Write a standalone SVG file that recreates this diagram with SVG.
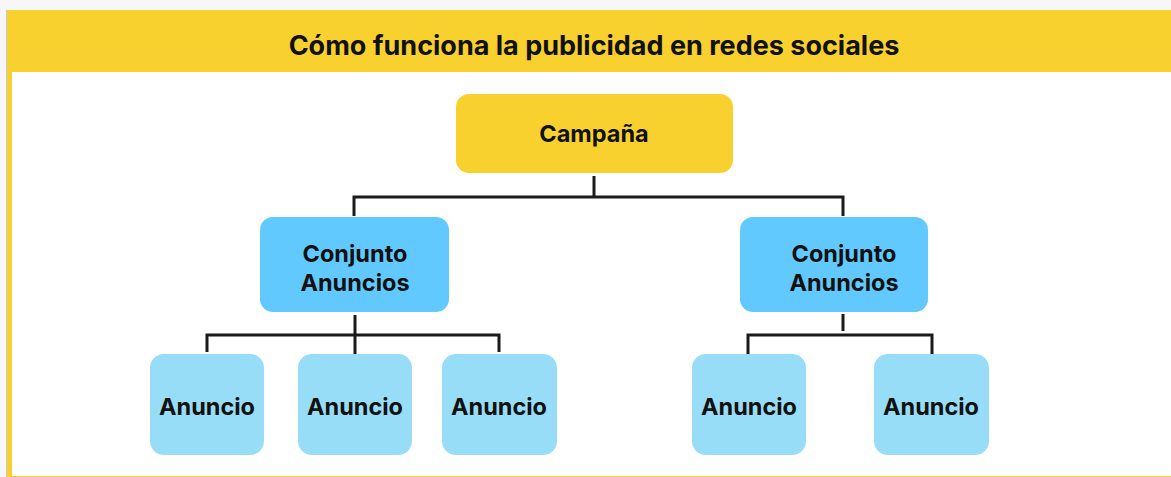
<svg xmlns="http://www.w3.org/2000/svg" width="1171" height="477" viewBox="0 0 1171 477">
<style>
text{font-family:Inter,"Open Sans","Liberation Sans",sans-serif;font-weight:bold;fill:#111;text-anchor:middle}
.t{font-size:27px}
.n{font-size:23.5px}
.camp{fill:#f8d12f}
.set{fill:#62c9fe}
.ad{fill:#98ddf7}
.c{stroke:#1a1a1a;stroke-width:3;fill:none}
</style>
<rect x="0" y="0" width="1171" height="477" fill="#f7f7f9"/>
<rect x="6" y="10" width="1165" height="467" fill="#f8d12f"/>
<line x1="6.5" y1="10" x2="6.5" y2="477" stroke="#c9c9c9" stroke-width="1"/>
<rect x="12" y="72" width="1159" height="404" fill="#ffffff"/>
<text class="t" x="594" y="55">Cómo funciona la publicidad en redes sociales</text>
<g id="connectors">
<path class="c" d="M594 176V197M354 216V197H843V216"/>
<path class="c" d="M355 315V354M207 352V335H499V352"/>
<path class="c" d="M843 314V331M748 354V335H932V354"/>
</g>
<g id="campana"><rect class="camp" x="456" y="94" width="277" height="79" rx="13"/><text class="n" x="594" y="142">Campaña</text></g>
<g id="conjunto1"><rect class="set" x="260" y="217" width="189" height="95" rx="13"/><text class="n" x="355" y="262">Conjunto</text><text class="n" x="355" y="291">Anuncios</text></g>
<g id="conjunto2"><rect class="set" x="740" y="217" width="188" height="95" rx="13"/><text class="n" x="844" y="262">Conjunto</text><text class="n" x="844" y="291">Anuncios</text></g>
<g id="anuncio1"><rect class="ad" x="150" y="354" width="114" height="101" rx="14"/><text class="n" x="207" y="415">Anuncio</text></g>
<g id="anuncio2"><rect class="ad" x="298" y="354" width="114" height="101" rx="14"/><text class="n" x="355" y="415">Anuncio</text></g>
<g id="anuncio3"><rect class="ad" x="442" y="354" width="115" height="101" rx="14"/><text class="n" x="499" y="415">Anuncio</text></g>
<g id="anuncio4"><rect class="ad" x="692" y="354" width="114" height="101" rx="14"/><text class="n" x="749" y="415">Anuncio</text></g>
<g id="anuncio5"><rect class="ad" x="874" y="354" width="115" height="101" rx="14"/><text class="n" x="931" y="415">Anuncio</text></g>
</svg>
